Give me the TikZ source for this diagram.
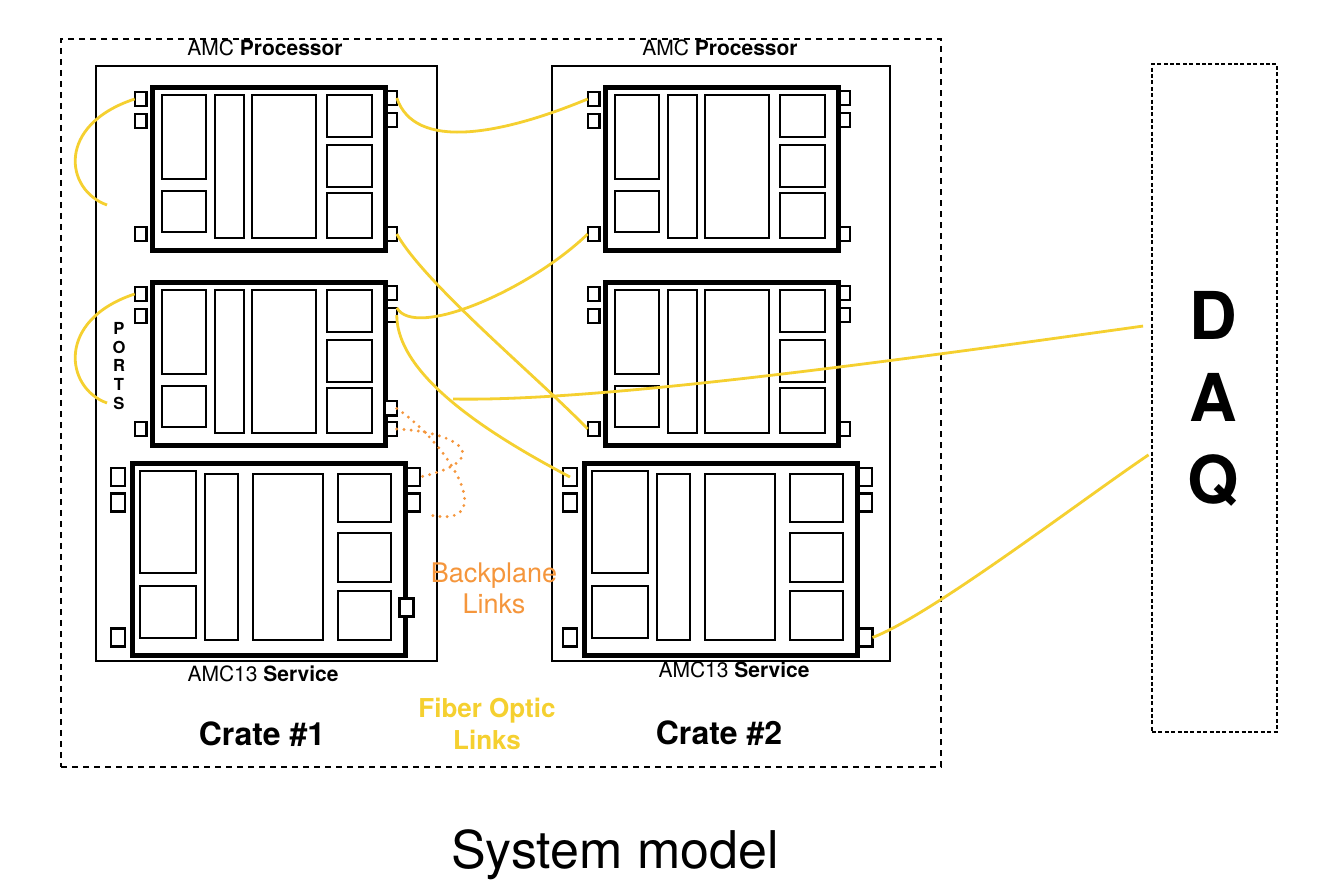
\documentclass[tikz,border=0pt]{standalone}
\usepackage{fontspec}
\setmainfont{TeX Gyre Heros}
\definecolor{fiber}{RGB}{245,208,48}
\definecolor{bplane}{RGB}{245,150,60}
\tikzset{
  crate/.style={draw, line width=1pt, minimum width=#1, inner sep=0pt, anchor=north west},
  syscrate/.style={draw, line width=1pt, dash pattern=on 3pt off 2.5pt, inner sep=0pt, anchor=north west},
  daqbox/.style={draw, line width=1pt, dash pattern=on 2pt off 1.2pt, inner sep=0pt, anchor=north west},
  cardbox/.style={draw, line width=2.5pt, inner sep=0pt, anchor=north west},
  innerbox/.style={draw, line width=1.4pt},
  port/.style={draw, fill=white, line width=1.2pt, minimum width=5.8pt, minimum height=7.2pt, inner sep=0pt, outer sep=0pt},
  bigport/.style={port, minimum width=7pt, minimum height=9pt},
  fiberlink/.style={draw=fiber, line width=1.4pt},
  bplink/.style={draw=bplane, line width=1.6pt, dash pattern=on 0pt off 3.6pt, line cap=round},
  lbl/.style={font=\fontsize{10.5}{12}\selectfont, anchor=base, inner sep=0pt},
  cratelbl/.style={font=\bfseries\fontsize{16}{19}\selectfont, anchor=base, inner sep=0pt},
}
% processor card: name, x, y (top-left of card border)
\newcommand{\proccard}[3]{%
\begin{scope}[shift={(#2,#3)}]
  \node[port] (#1-L1) at (-9.5,14) {};
  \node[port] (#1-L2) at (-9.5,36) {};
  \node[port] (#1-L3) at (-9.5,149) {};
  \node[port] (#1-R1) at (241,13) {};
  \node[port] (#1-R2) at (241,35) {};
  \node[port] (#1-R3) at (241,149) {};
  \node[cardbox, minimum width=116.5pt, minimum height=81.5pt] (#1) at (0,0) {};
  \draw[innerbox] (12,10) rectangle (56,94);
  \draw[innerbox] (12,106) rectangle (56,147);
  \draw[innerbox] (65,10) rectangle (94,153);
  \draw[innerbox] (102,10) rectangle (166,153);
  \draw[innerbox] (177,10) rectangle (222,52);
  \draw[innerbox] (177,60) rectangle (222,102);
  \draw[innerbox] (177,108) rectangle (222,153);
\end{scope}}
% AMC13 service card
\newcommand{\svccard}[3]{%
\begin{scope}[shift={(#2,#3)}]
  \node[bigport] (#1-L1) at (-11.5,15.5) {};
  \node[bigport] (#1-L2) at (-11.5,41) {};
  \node[bigport] (#1-L3) at (-11.5,176) {};
  \node[bigport] (#1-R1) at (283.5,15.5) {};
  \node[bigport] (#1-R2) at (283.5,41) {};
  \node[cardbox, minimum width=136.5pt, minimum height=95.5pt] (#1) at (0,0) {};
  \draw[innerbox] (10.5,9.5) rectangle (66.5,111.5);
  \draw[innerbox] (10.5,124.5) rectangle (66.5,176.5);
  \draw[innerbox] (75.5,12.5) rectangle (108.5,178.5);
  \draw[innerbox] (123.5,12.5) rectangle (193.5,178.5);
  \draw[innerbox] (208.5,12.5) rectangle (261.5,60.5);
  \draw[innerbox] (208.5,71.5) rectangle (261.5,120.5);
  \draw[innerbox] (208.5,129.5) rectangle (261.5,178.5);
\end{scope}}
\begin{document}
\begin{tikzpicture}[x=0.5pt, y=-0.5pt]
  \useasboundingbox (0,0) rectangle (1319,882);
  \fill[white] (0,0) rectangle (1319,882);

  % system and DAQ
  \node[syscrate, minimum width=440pt, minimum height=364pt] (system) at (60,38) {};
  \node[daqbox, minimum width=62.5pt, minimum height=334pt] (daq) at (1151,63) {};
  \node[font=\bfseries\fontsize{33}{41}\selectfont, align=center, inner sep=0pt] (daqtext) at (1213,399) {D\\A\\Q};

  % crates
  \node[crate=170.5pt, minimum height=297.5pt] (crate1) at (95,65) {};
  \node[crate=169pt, minimum height=297.5pt] (crate2) at (551,65) {};

  % cards
  \proccard{c1a}{150}{85}
  \proccard{c1b}{150}{280}
  \proccard{c2a}{603}{85}
  \proccard{c2b}{603}{280}
  \node[port] (c1b-X) at (391,408.5) {};
  \svccard{c1c}{129.5}{461.5}
  \svccard{c2c}{581.5}{461.5}
  \node[bigport] (c1c-X) at (406.5,607.5) {};
  \node[bigport] (c2c-R3) at (865.5,637.5) {};

  % labels
  \node[lbl] (proc1) at (265,56) {AMC \textbf{Processor}};
  \node[lbl] (proc2) at (720,56) {AMC \textbf{Processor}};
  \node[lbl] (svc1) at (263,682) {AMC13 \textbf{Service}};
  \node[lbl] (svc2) at (734,677) {AMC13 \textbf{Service}};
  \node[cratelbl] (crate1lbl) at (262,745) {Crate \#1};
  \node[cratelbl] (crate2lbl) at (719,744) {Crate \#2};
  \node[font=\bfseries\fontsize{13}{16}\selectfont, text=fiber, align=center, inner sep=0pt] (fiberlbl) at (487,723.5) {Fiber Optic\\Links};
  \node[font=\fontsize{13.5}{15.5}\selectfont, text=bplane, align=center, inner sep=0pt] (bplbl) at (494,588.5) {Backplane\\Links};
  \node[font=\bfseries\fontsize{8.3}{9.3}\selectfont, align=center, inner sep=0pt] (ports) at (119,366) {P\\O\\R\\T\\S};
  \node[font=\fontsize{26}{30}\selectfont, anchor=base, inner sep=0pt] (title) at (615,868) {System model};

  % free ends
  \coordinate (fe1) at (107,205);
  \coordinate (fe2) at (107,403);
  \coordinate (fe3) at (453,399);
  \coordinate (fe4) at (430,515);

  % fiber optic links
  \draw[fiberlink] (c1a-L1.west) .. controls +(-79,26) and +(-42,-15) .. (fe1);
  \draw[fiberlink] (c1b-L1.west) .. controls +(-79,26) and +(-42,-15) .. (fe2);
  \draw[fiberlink] (c1a-R1.east) .. controls +(18,53) and +(-87,36) .. (c2a-L1.west);
  \draw[fiberlink] (c1a-R3.east) .. controls +(28,50) and +(-47,-49) .. (c2b-L3.west);
  \draw[fiberlink] (c1b-R2.north east) .. controls +(18,32) and +(-58,56) .. (c2a-L3.west);
  \draw[fiberlink] (c1b-R2.east) .. controls +(0,64) and +(-70,-37) .. (c2c-L1.center);
  \draw[fiberlink, shorten >=4pt] (fe3) .. controls +(147,3) and +(-251,35) .. (daq.131);
  \draw[fiberlink, shorten >=1.5pt] (c2c-R3.east) .. controls +(58,-22) and +(-71,48) .. (daq.221.4);

  % backplane links
  \draw[bplink] (c1b-X.east) .. controls +(54,37) and +(70,15) .. (fe4);
  \draw[bplink] (c1b-R3.east) .. controls +(64,3) and +(75,-17) .. (c1c-R1.east);
\end{tikzpicture}
\end{document}
